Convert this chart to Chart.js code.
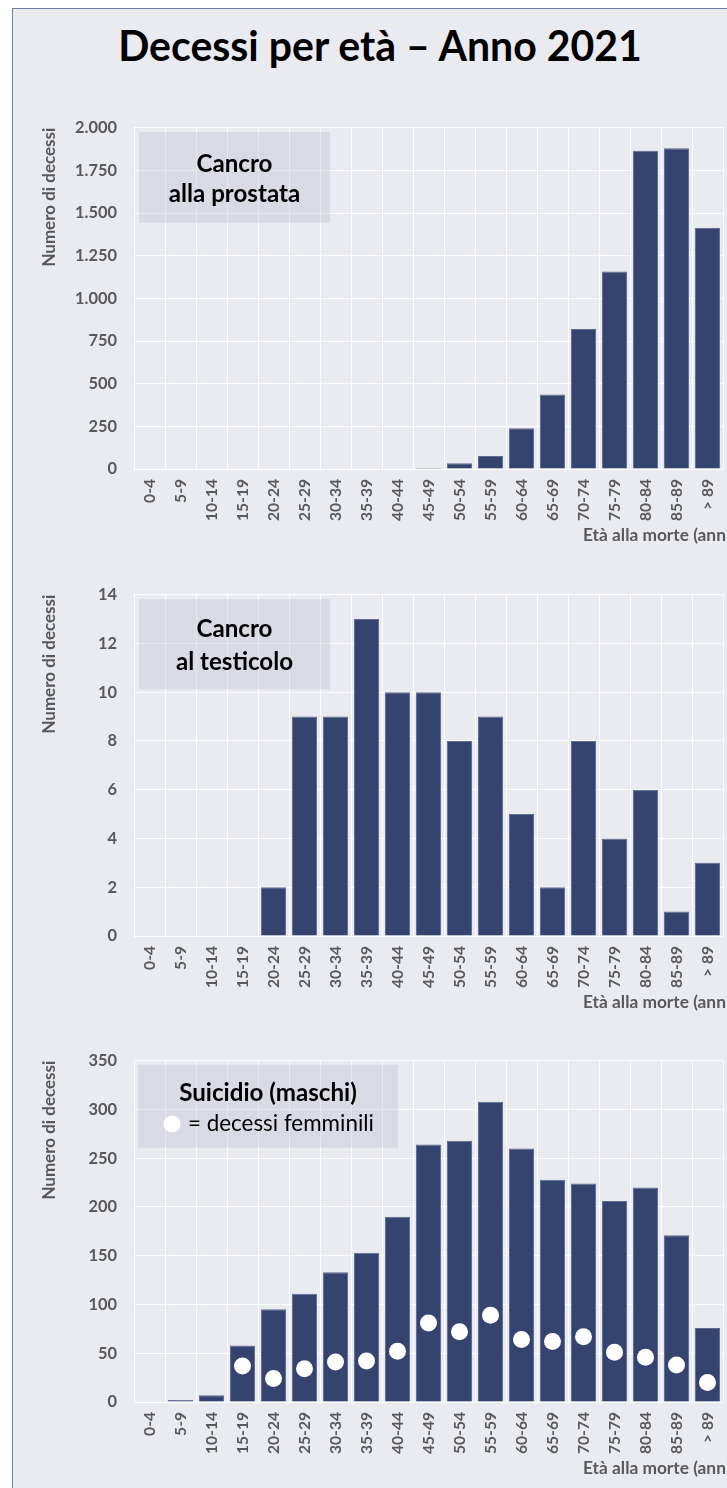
<!DOCTYPE html>
<html>
<head>
<meta charset="utf-8">
<script src="https://cdn.jsdelivr.net/npm/chart.js@4.4.1/dist/chart.umd.min.js"></script>
<style>
html,body{margin:0;padding:0;background:#fff;}
#page{position:relative;width:727px;height:1488px;overflow:hidden;background:#fff;}
#frame{position:absolute;left:12px;top:8px;width:900px;height:1600px;background:#EAEBF1;border-left:1.5px solid #6F7FA6;border-top:1.5px solid #6F7FA6;}
#title{position:absolute;left:0;width:760px;text-align:center;font-family:Lato;font-weight:bold;line-height:1;color:#000;white-space:nowrap;}
canvas{position:absolute;left:0;}
</style>
</head>
<body>
<div id="page">
  <div id="frame"></div>
  <div id="title">Decessi per età – Anno 2021</div>
  <canvas id="c1" width="780" height="449" style="top:100px"></canvas>
  <canvas id="c2" width="780" height="449" style="top:566.67px"></canvas>
  <canvas id="c3" width="780" height="449" style="top:1033.33px"></canvas>
</div>
<script>
// ---- data ----
const categories = ['0-4','5-9','10-14','15-19','20-24','25-29','30-34','35-39','40-44','45-49','50-54','55-59','60-64','65-69','70-74','75-79','80-84','85-89','> 89'];
const prostata = [0,0,0,0,0,0,0,0,0,6,33,76,239,436,821,1157,1865,1880,1412];
const testicolo = [0,0,0,0,2,9,9,13,10,10,8,9,5,2,8,4,6,1,3];
const suicidioMaschi = [0,2,7,58,95,111,133,153,190,264,268,308,260,228,224,206,220,171,76];
const suicidioFemmine = [null,null,null,37,24,34,41,42,52,81,72,89,64,62,67,51,46,38,20];
const yMax = [2000, 14, 350];
const yStep = [250, 2, 50];
const mainTitle = 'Decessi per età – Anno 2021';
const yAxisTitle = 'Numero di decessi';
const xAxisTitle = 'Età alla morte (anni)';
const panelTitles = [['Cancro','alla prostata'], ['Cancro','al testicolo'], ['Suicidio (maschi)']];
const legendText = '= decessi femminili';

// ---- style ----
const FONT = 'Lato';
const BAR = '#35446F';
const GRAY = '#595959';
const GRID = 'rgba(255,255,255,0.9)';
Chart.defaults.font.family = FONT;

// font size so that a sample text has the width seen in the reference
const mctx = document.createElement('canvas').getContext('2d');
function fitSize(text, weight, width) {
  mctx.font = weight + ' 100px ' + FONT;
  return 100 * width / mctx.measureText(text).width;
}
const titleSize = fitSize(mainTitle, 'bold', 526);
const yTickSize = fitSize('2.000', 'bold', 42);
const xTickSize = fitSize('10-14', 'bold', 42);
const yTitleSize = fitSize(yAxisTitle, 'bold', 139);
const xTitleSize = fitSize('Età alla morte (ann', 'bold', 143);
const panelSize = fitSize('Cancro', 'bold', 76);
const legendSize = fitSize(legendText, 'normal', 186);

const titleEl = document.getElementById('title');
titleEl.style.fontSize = titleSize + 'px';
titleEl.style.top = (61 - 0.887 * titleSize) + 'px';

function fmt(v){ return String(v).replace(/\B(?=(\d{3})+(?!\d))/g, '.'); }

const annotPlugin = {
  id: 'annot',
  beforeDatasetsDraw(chart, args, o) {
    const ctx = chart.ctx;
    ctx.save();
    ctx.fillStyle = 'rgba(180,184,200,0.32)';
    ctx.fillRect(o.box[0], o.box[1], o.box[2]-o.box[0], o.box[3]-o.box[1]);
    ctx.fillStyle = '#000';
    ctx.textBaseline = 'alphabetic';
    ctx.textAlign = 'center';
    ctx.font = 'bold ' + panelSize + 'px ' + FONT;
    const cx = (o.box[0]+o.box[2])/2;
    o.lines.forEach((t,i) => ctx.fillText(t, cx, o.baselines[i]));
    if (o.legend) {
      ctx.beginPath();
      ctx.arc(o.legend.cx, o.legend.cy, 8.5, 0, Math.PI*2);
      ctx.fillStyle = '#fff';
      ctx.fill();
      ctx.fillStyle = '#000';
      ctx.textAlign = 'left';
      ctx.font = legendSize + 'px ' + FONT;
      ctx.fillText(o.legend.text, o.legend.tx, o.legend.ty);
    }
    ctx.restore();
  },
  afterDraw(chart) {
    const ctx = chart.ctx;
    ctx.save();
    ctx.fillStyle = GRAY;
    ctx.font = 'bold ' + xTitleSize + 'px ' + FONT;
    ctx.textAlign = 'left';
    ctx.textBaseline = 'middle';
    ctx.fillText(xAxisTitle, 583, chart.chartArea.bottom + 66);
    ctx.restore();
  }
};

function makeChart(id, idx, datasets, annot) {
  return new Chart(document.getElementById(id), {
    type: 'bar',
    data: { labels: categories, datasets },
    options: {
      responsive: false,
      animation: false,
      events: [],
      layout: { padding: { left: 0, right: 57, top: 27.7, bottom: 0 } },
      plugins: { legend: { display: false }, tooltip: { enabled: false }, annot },
      scales: {
        x: {
          grid: { color: GRID, lineWidth: 1, drawTicks: false, offset: true },
          border: { display: false },
          ticks: { color: GRAY, font: { weight: 'bold', size: xTickSize }, minRotation: 90, maxRotation: 90, padding: 10, autoSkip: false },
          afterFit(s) { s.height = 80; }
        },
        y: {
          min: 0, max: yMax[idx],
          grid: { color: GRID, lineWidth: 1, drawTicks: false },
          border: { display: false },
          ticks: { stepSize: yStep[idx], color: GRAY, font: { weight: 'bold', size: yTickSize }, padding: 17, callback: v => fmt(v) },
          title: { display: true, text: yAxisTitle, align: 'end', color: GRAY, font: { weight: 'bold', size: yTitleSize, lineHeight: 1.2 },
                   padding: { top: 50 - yTitleSize * 0.6, bottom: 0 } },
          afterFit(s) { s.width = 134; }
        }
      }
    },
    plugins: [annotPlugin]
  });
}

function barSet(values) {
  return { type: 'bar', data: values, backgroundColor: BAR, borderColor: '#5F6B8F', borderWidth: 1,
           categoryPercentage: 1, barPercentage: 0.81, order: 2 };
}

makeChart('c1', 0, [barSet(prostata)],
  { box: [139, 32, 330, 122.7], lines: panelTitles[0], baselines: [71.7, 101.7] });
makeChart('c2', 1, [barSet(testicolo)],
  { box: [139, 32.3, 330, 122.3], lines: panelTitles[1], baselines: [70, 102.7] });
makeChart('c3', 2, [
  { type: 'line', data: suicidioFemmine, showLine: false, pointRadius: 8.5, pointHoverRadius: 8.5,
    pointBackgroundColor: '#fff', pointBorderWidth: 0, borderColor: '#fff', order: 1 },
  barSet(suicidioMaschi)
], { box: [138, 31.7, 398, 114.7], lines: panelTitles[2], baselines: [68.4],
     legend: { cx: 172, cy: 91, text: legendText, tx: 188, ty: 98.4 } });
</script>
</body>
</html>
